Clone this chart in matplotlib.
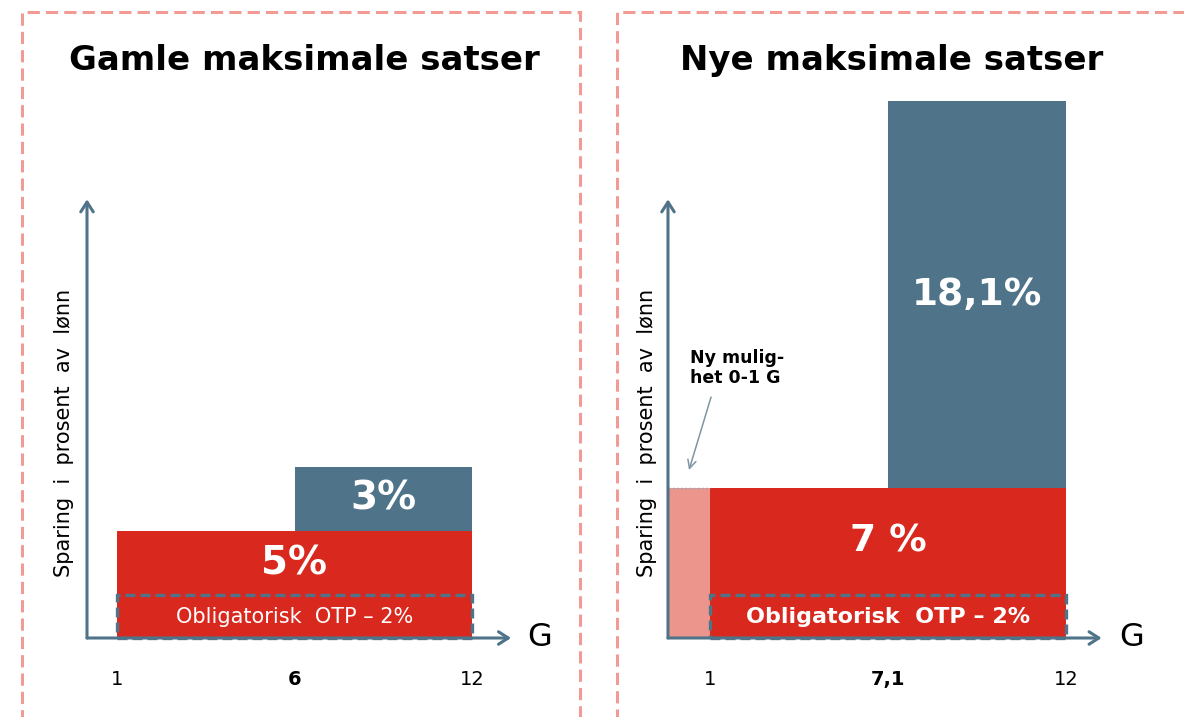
import matplotlib
matplotlib.use("Agg")
import matplotlib.pyplot as plt
from matplotlib.patches import Rectangle

# ---------------- data ----------------
panel_titles = ["Gamle maksimale satser", "Nye maksimale satser"]
y_label = "Sparing  i  prosent  av  lønn"
x_unit = "G"

old_ticks = ["1", "6", "12"]
old_bold = [False, True, False]
old_mandatory = 2.0          # obligatorisk OTP, 1-12 G
old_total = 5.0              # max 1-12 G
old_extra = 3.0              # additional 6-12 G
old_labels = ["5%", "3%"]

new_ticks = ["1", "7,1", "12"]
new_bold = [False, True, False]
new_mandatory = 2.0
new_total = 7.0              # max 1-12 G (also 0-1 G new option)
new_extra = 18.1             # additional 7,1-12 G
new_labels = ["7 %", "18,1%"]
mandatory_label = "Obligatorisk  OTP – 2%"
note_label = "Ny mulig-\nhet 0-1 G"

# ---------------- style ----------------
RED = "#D9281E"
BLUE = "#4F7388"
PINK = "#EC958D"
AXIS = "#4F7388"
BORDER = "#F29B94"

W, H = 1184, 717
fig = plt.figure(figsize=(W / 100, H / 100), dpi=100)
plt.rcParams["font.family"] = ["DejaVu Sans"]

PX_PER_PCT = 21.4
BASE_PX = 638


def make_axes(px_left, px_right, tick1_px, spacing_px):
    ax = fig.add_axes([px_left / W, 0, (px_right - px_left) / W, 1])
    ax.set_xlim(1 - (tick1_px - px_left) / spacing_px,
                1 + (px_right - tick1_px) / spacing_px)
    ax.set_ylim(-(H - BASE_PX) / PX_PER_PCT, BASE_PX / PX_PER_PCT)
    ax.axis("off")
    return ax


def draw_axes_arrows(ax, x0, x_end, y_top):
    ax.annotate("", xy=(x0, y_top), xytext=(x0, 0),
                arrowprops=dict(arrowstyle="->,head_length=0.7,head_width=0.45",
                                color=AXIS, lw=2.2, shrinkA=0, shrinkB=0))
    ax.annotate("", xy=(x_end, 0), xytext=(x0, 0),
                arrowprops=dict(arrowstyle="->,head_length=0.7,head_width=0.45",
                                color=AXIS, lw=2.2, shrinkA=0, shrinkB=0))


def draw_ticks(ax, ticks, bold):
    for i, (t, b) in enumerate(zip(ticks, bold)):
        ax.text(i + 1, -1.95, t, ha="center", va="center", fontsize=14,
                fontweight="bold" if b else "normal", color="black")


# ---------------- left panel ----------------
axL = make_axes(0, 592, 117, 177.5)
x1, x2, x3 = 1, 2, 3
axL.bar(x1, old_total, width=x3 - x1, align="edge", color=RED, zorder=2)
axL.bar(x2, old_extra, width=x3 - x2, bottom=old_total, align="edge",
        color=BLUE, zorder=2)
axL.bar(x1, old_mandatory, width=x3 - x1, align="edge", fill=False,
        edgecolor=BLUE, linestyle=(0, (3, 1.5)), linewidth=2.4, zorder=3)
draw_axes_arrows(axL, 0.831, 3.22, 20.5)
axL.text(3.38, 0, x_unit, ha="center", va="center", fontsize=23)
axL.text(x2, (old_mandatory + old_total) / 2, old_labels[0], ha="center",
         va="center", fontsize=28, fontweight="bold", color="white", zorder=4)
axL.text((x2 + x3) / 2, old_total + old_extra / 2, old_labels[1], ha="center",
         va="center", fontsize=28, fontweight="bold", color="white", zorder=4)
axL.text(x2, old_mandatory / 2, mandatory_label, ha="center", va="center",
         fontsize=15, color="white", zorder=4)
draw_ticks(axL, old_ticks, old_bold)
axL.text(0.70, 9.6, y_label, rotation=90, ha="center", va="center",
         fontsize=15, color="black")
axL.text(2.058, 27.0, panel_titles[0], ha="center", va="center",
         fontsize=24.5, fontweight="bold", color="black")

# ---------------- right panel ----------------
axR = make_axes(592, 1184, 710, 178)
n0 = 0.764
axR.bar(n0, new_total, width=x1 - n0, align="edge", color=PINK, zorder=2)
axR.plot([n0, x1], [new_total, new_total], color="#9AA7B0", lw=1,
         linestyle=(0, (1.5, 1.5)), zorder=3)
axR.bar(x1, new_total, width=x3 - x1, align="edge", color=RED, zorder=2)
axR.bar(x2, new_extra, width=x3 - x2, bottom=new_total, align="edge",
        color=BLUE, zorder=2)
axR.bar(x1, new_mandatory, width=x3 - x1, align="edge", fill=False,
        edgecolor=BLUE, linestyle=(0, (3, 1.5)), linewidth=2.4, zorder=3)
draw_axes_arrows(axR, n0, 3.2, 20.5)
axR.text(3.37, 0, x_unit, ha="center", va="center", fontsize=23)
axR.text(x2, (new_mandatory + new_total) / 2, new_labels[0], ha="center",
         va="center", fontsize=27, fontweight="bold", color="white", zorder=4)
axR.text((x2 + x3) / 2, new_total + new_extra / 2, new_labels[1], ha="center",
         va="center", fontsize=27, fontweight="bold", color="white", zorder=4)
axR.text(x2, new_mandatory / 2, mandatory_label, ha="center", va="center",
         fontsize=16, fontweight="bold", color="white", zorder=4)
draw_ticks(axR, new_ticks, new_bold)
axR.text(0.646, 9.6, y_label, rotation=90, ha="center", va="center",
         fontsize=15, color="black")
axR.text(2.022, 27.0, panel_titles[1], ha="center", va="center",
         fontsize=24.5, fontweight="bold", color="black")
axR.text(0.887, 12.6, note_label, ha="left", va="center", fontsize=12.5,
         fontweight="bold", color="black", linespacing=1.15)
axR.annotate("", xy=(0.882, 7.85), xytext=(1.006, 11.26),
             arrowprops=dict(arrowstyle="->,head_length=0.6,head_width=0.3",
                             color="#7F95A3", lw=1.1, shrinkA=0, shrinkB=0))

# ---------------- dashed panel borders ----------------
for (x0, x1p) in [(22, 580), (617, 1200)]:
    r = Rectangle((x0 / W, -0.05), (x1p - x0) / W, 1.05 - 12 / H,
                  transform=fig.transFigure, fill=False, edgecolor=BORDER,
                  linewidth=2.2, linestyle=(0, (4, 2)), clip_on=False)
    fig.add_artist(r)

fig.savefig("out.png", dpi=100, facecolor="white")
